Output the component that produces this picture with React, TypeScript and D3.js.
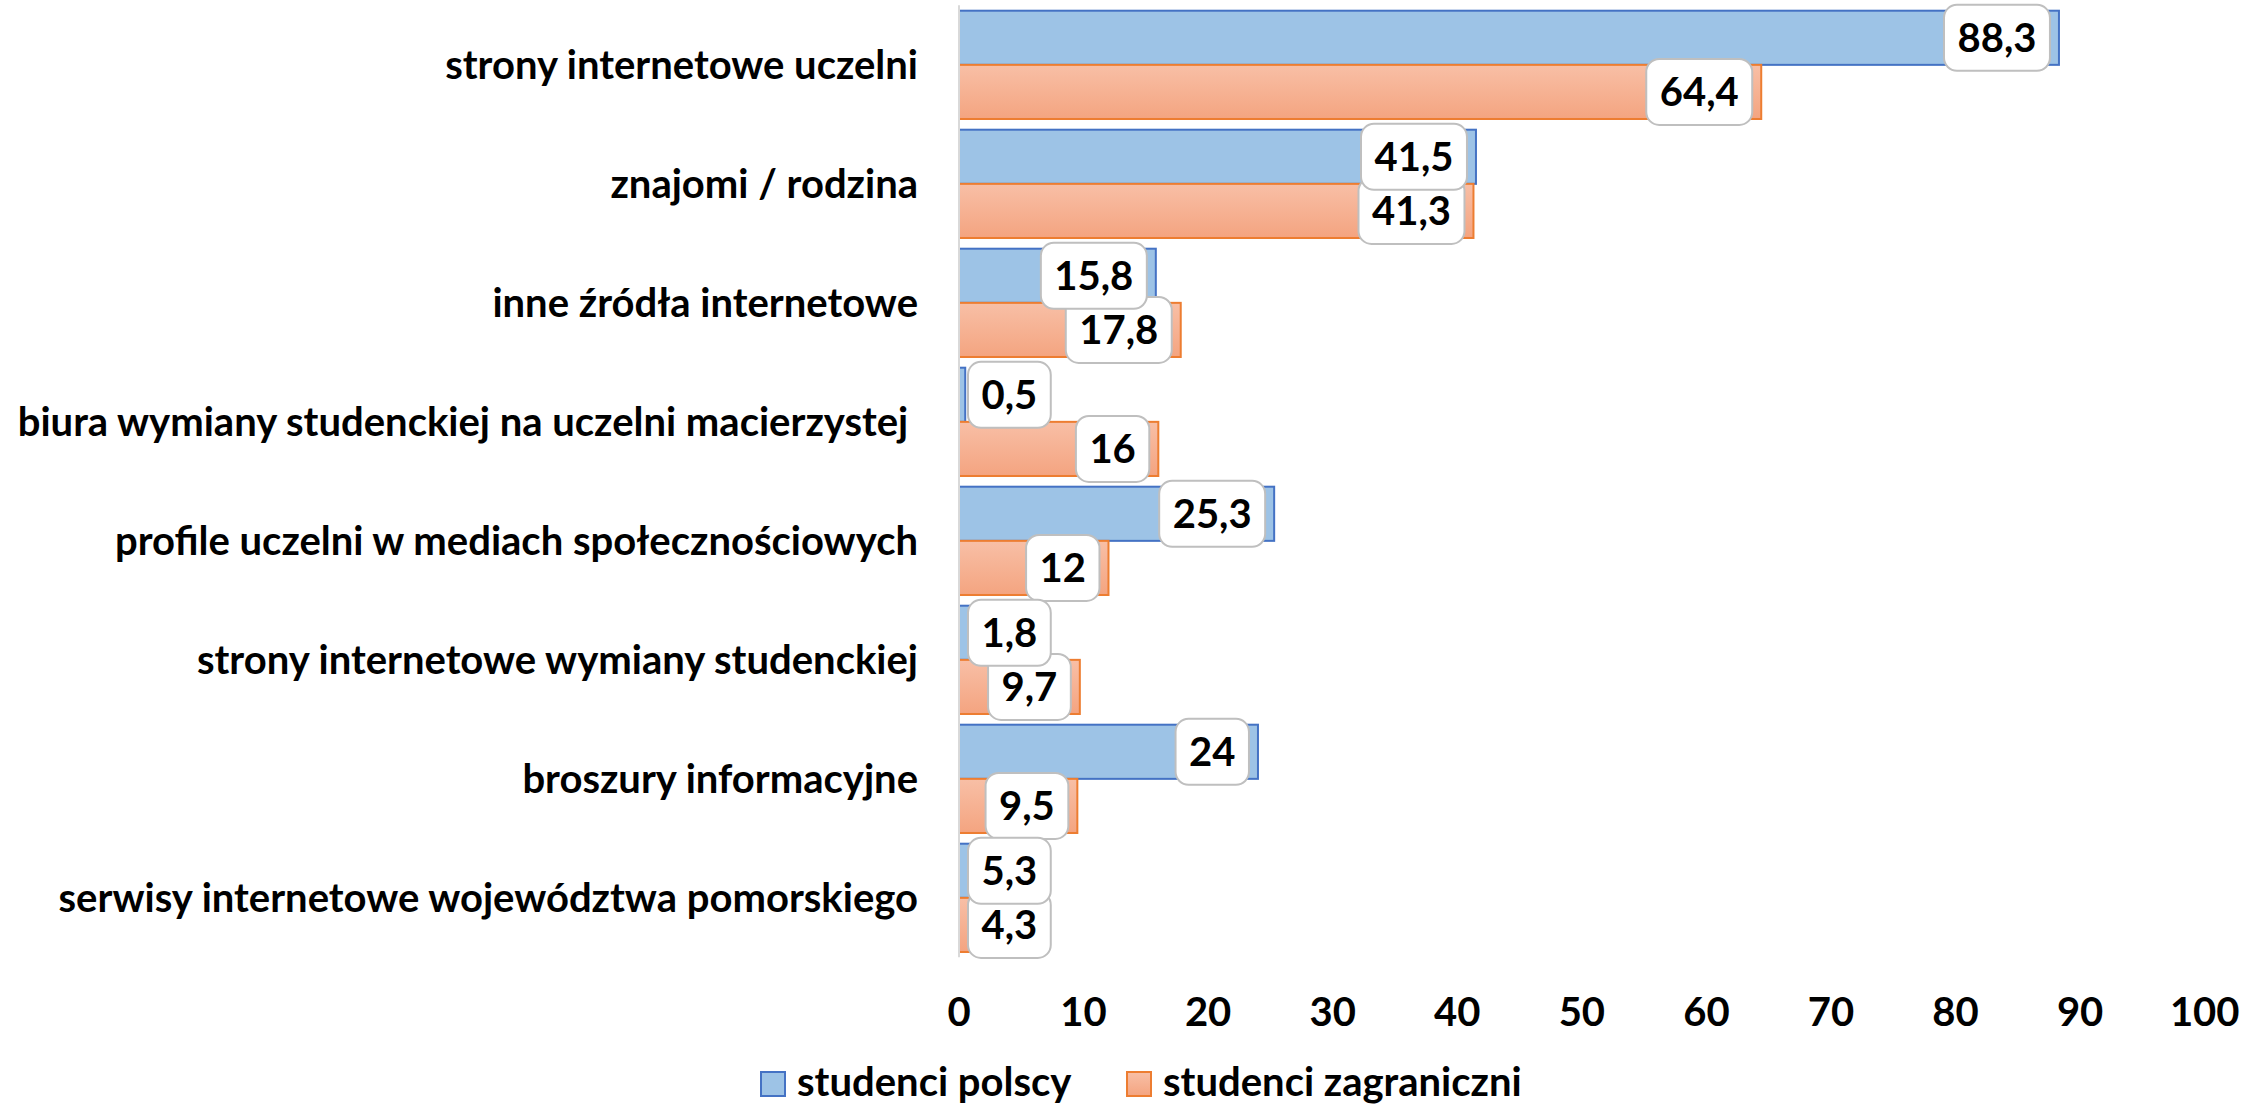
import React, { useEffect, useRef } from "react";
import * as d3 from "d3";

const categories = [
  "strony internetowe uczelni",
  "znajomi / rodzina",
  "inne źródła internetowe",
  "biura wymiany studenckiej na uczelni macierzystej ",
  "profile uczelni w mediach społecznościowych",
  "strony internetowe wymiany studenckiej",
  "broszury informacyjne",
  "serwisy internetowe województwa pomorskiego",
];
const seriesNames = ["studenci polscy", "studenci zagraniczni"];
const polscy = [88.3, 41.5, 15.8, 0.5, 25.3, 1.8, 24, 5.3];
const zagraniczni = [64.4, 41.3, 17.8, 16, 12, 9.7, 9.5, 4.3];
const xTicks = [0, 10, 20, 30, 40, 50, 60, 70, 80, 90, 100];

const W = 2267;
const H = 1105;
const FONT = "Lato, 'Open Sans', sans-serif";
const FS = 40;

export default function App() {
  const ref = useRef<SVGSVGElement | null>(null);

  useEffect(() => {
    const svg = d3.select(ref.current);
    svg.selectAll("*").remove();

    const defs = svg.append("defs");
    const grad = defs
      .append("linearGradient")
      .attr("id", "orangeGrad")
      .attr("x1", 0)
      .attr("y1", 0)
      .attr("x2", 0)
      .attr("y2", 1);
    grad.append("stop").attr("offset", "0%").attr("stop-color", "#F8BFA6");
    grad.append("stop").attr("offset", "100%").attr("stop-color", "#F4A480");

    const x = d3.scaleLinear().domain([0, 100]).range([959, 2204.7]);
    const y = d3
      .scaleBand<string>()
      .domain(categories)
      .range([5.35, 957.35])
      .paddingInner(0.09)
      .paddingOuter(0.045);
    const ys = d3
      .scaleBand<string>()
      .domain(seriesNames)
      .range([0, y.bandwidth()]);

    const fills = ["#9DC3E6", "url(#orangeGrad)"];
    const strokes = ["#4472C4", "#ED7D31"];
    const values = [polscy, zagraniczni];

    const gBars = svg.append("g");
    values.forEach((vals, si) => {
      gBars
        .selectAll(`rect.s${si}`)
        .data(vals)
        .enter()
        .append("rect")
        .attr("x", x(0))
        .attr("y", (d, i) => (y(categories[i]) as number) + (ys(seriesNames[si]) as number))
        .attr("width", (d) => x(d) - x(0))
        .attr("height", ys.bandwidth())
        .attr("fill", fills[si])
        .attr("stroke", strokes[si])
        .attr("stroke-width", 2);
    });

    // axis line
    svg
      .append("line")
      .attr("x1", x(0))
      .attr("x2", x(0))
      .attr("y1", y.range()[0])
      .attr("y2", y.range()[1])
      .attr("stroke", "#D9D9D9")
      .attr("stroke-width", 2);

    // category labels
    svg
      .append("g")
      .selectAll("text")
      .data(categories)
      .enter()
      .append("text")
      .attr("x", 918)
      .attr("y", (d) => (y(d) as number) + y.bandwidth() / 2)
      .attr("dy", "0.35em")
      .attr("text-anchor", "end")
      .attr("font-family", FONT)
      .attr("font-weight", 700)
      .attr("font-size", FS)
      .style("white-space", "pre")
      .text((d) => d);

    // x tick labels
    svg
      .append("g")
      .selectAll("text")
      .data(xTicks)
      .enter()
      .append("text")
      .attr("x", (d) => x(d))
      .attr("y", 1012)
      .attr("dy", "0.35em")
      .attr("text-anchor", "middle")
      .attr("font-family", FONT)
      .attr("font-weight", 700)
      .attr("font-size", FS)
      .text((d) => String(d));

    // data labels (orange first, blue on top)
    const gLab = svg.append("g");
    [1, 0].forEach((si) => {
      values[si].forEach((v, i) => {
        const cy =
          (y(categories[i]) as number) +
          (ys(seriesNames[si]) as number) +
          ys.bandwidth() / 2;
        const g = gLab.append("g");
        const rect = g.append("rect");
        const t = g
          .append("text")
          .attr("font-family", FONT)
          .attr("font-weight", 700)
          .attr("font-size", FS)
          .attr("text-anchor", "middle")
          .attr("dy", "0.35em")
          .text(String(v).replace(".", ","));
        const tw = (t.node() as SVGTextElement).getComputedTextLength();
        const bw = tw + 27;
        const bh = 66;
        const right = x(v) - 9;
        let left = right - bw;
        if (left < x(0) + 9) {
          left = x(0) + 9;
        }
        rect
          .attr("x", left)
          .attr("y", cy - bh / 2)
          .attr("width", bw)
          .attr("height", bh)
          .attr("rx", 13)
          .attr("fill", "#FFFFFF")
          .attr("stroke", "#BFBFBF")
          .attr("stroke-width", 2);
        t.attr("x", left + bw / 2).attr("y", cy);
      });
    });

    // legend
    const legendX = [761, 1127];
    const gLeg = svg.append("g");
    seriesNames.forEach((name, si) => {
      gLeg
        .append("rect")
        .attr("x", legendX[si])
        .attr("y", 1072)
        .attr("width", 24)
        .attr("height", 24)
        .attr("fill", fills[si])
        .attr("stroke", strokes[si])
        .attr("stroke-width", 2);
      gLeg
        .append("text")
        .attr("x", legendX[si] + 36)
        .attr("y", 1096)
        .attr("font-family", FONT)
        .attr("font-weight", 700)
        .attr("font-size", FS)
        .text(name);
    });
  }, []);

  return (
    <svg
      ref={ref}
      width={W}
      height={H}
      style={{ position: "absolute", left: 0, top: 0, display: "block", background: "#fff" }}
    />
  );
}
